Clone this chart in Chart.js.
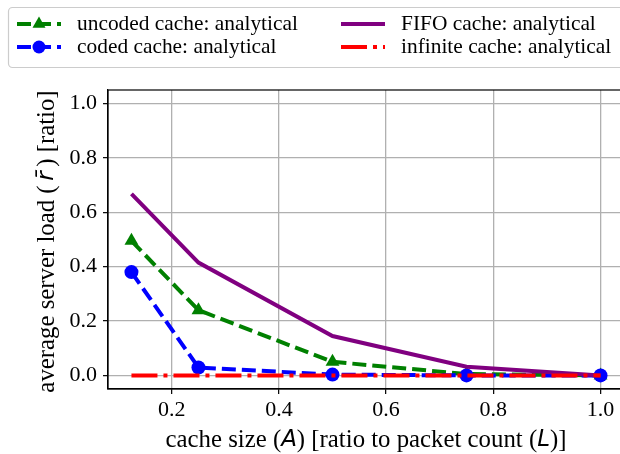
<!DOCTYPE html>
<html>
<head>
<meta charset="utf-8">
<script src="https://cdn.jsdelivr.net/npm/chart.js@4.4.1/dist/chart.umd.min.js"></script>
<style>
    html, body { margin: 0; padding: 0; background: #fff; overflow: hidden; }
    #wrap { position: relative; width: 640px; height: 454px; }
</style>
</head>
<body>
<div id="wrap"><canvas id="loadChart"></canvas></div>
<script>
// Cache size (ratio to packet count) and average server load per model
const cacheSize = [0.125, 0.25, 0.5, 0.75, 1.0];
const uncodedLoad = [0.495, 0.24, 0.05, 0.005, 0.0];
const codedLoad = [0.38, 0.029, 0.003, 0.0, 0.0];
const fifoLoad = [0.668, 0.415, 0.145, 0.032, 0.0];
const infiniteLoad = [0.0, 0.0, 0.0, 0.0, 0.0];

const xTicks = [0.2, 0.4, 0.6, 0.8, 1.0];
const yTicks = [0.0, 0.2, 0.4, 0.6, 0.8, 1.0];

const SERIF = '"Liberation Serif", "Times New Roman", serif';
const MATH = '"DejaVu Sans", sans-serif';

function toPoints(values) {
    return cacheSize.map((x, i) => ({ x: x, y: values[i] }));
}

/**
 * Draw a run of text pieces with different fonts, centred on (0, 0)
 */
function drawMixedText(ctx, pieces) {
    let total = 0;
    pieces.forEach(p => {
        ctx.font = p.font;
        p.w = ctx.measureText(p.text).width;
        total += p.w;
    });
    let x = -total / 2;
    pieces.forEach(p => {
        ctx.font = p.font;
        ctx.fillText(p.text, x, 0);
        x += p.w;
    });
}

// Frame, axis titles and two-column legend
const decorPlugin = {
    id: 'decor',
    afterDraw(chart) {
        const ctx = chart.ctx;
        const area = chart.chartArea;

        ctx.save();
        ctx.strokeStyle = '#000';
        ctx.lineWidth = 1.2;
        ctx.strokeRect(area.left, area.top, area.right - area.left, area.bottom - area.top);

        ctx.fillStyle = '#000';
        ctx.textBaseline = 'middle';
        ctx.textAlign = 'left';

        // x axis title
        ctx.save();
        ctx.translate((area.left + area.right) / 2, 440);
        drawMixedText(ctx, [
            { text: 'cache size (', font: '24.8px ' + SERIF },
            { text: 'A', font: 'italic 23px ' + MATH },
            { text: ') [ratio to packet count (', font: '24.8px ' + SERIF },
            { text: 'L', font: 'italic 23px ' + MATH },
            { text: ')]', font: '24.8px ' + SERIF }
        ]);
        ctx.restore();

        // y axis title
        ctx.save();
        ctx.translate(47, (area.top + area.bottom) / 2 + 2);
        ctx.rotate(-Math.PI / 2);
        drawMixedText(ctx, [
            { text: 'average server load (', font: '24.8px ' + SERIF },
            { text: '\u2009r\u0304\u2009', font: 'italic 23px ' + MATH },
            { text: ') [ratio]', font: '24.8px ' + SERIF }
        ]);
        ctx.restore();

        // legend box
        ctx.beginPath();
        ctx.roundRect(8.5, 7.5, 640, 60, 4);
        ctx.fillStyle = 'rgba(255,255,255,0.8)';
        ctx.fill();
        ctx.strokeStyle = '#cccccc';
        ctx.lineWidth = 1.2;
        ctx.stroke();

        const slots = [
            { ds: 0, x: 17, y: 24 },
            { ds: 1, x: 17, y: 47 },
            { ds: 2, x: 341, y: 24 },
            { ds: 3, x: 341, y: 47 }
        ];
        slots.forEach(s => {
            const ds = chart.data.datasets[s.ds];
            ctx.save();
            ctx.strokeStyle = ds.borderColor;
            ctx.lineWidth = ds.borderWidth;
            ctx.setLineDash(ds.borderDash || []);
            ctx.beginPath();
            ctx.moveTo(s.x, s.y);
            ctx.lineTo(s.x + 44, s.y);
            ctx.stroke();
            ctx.setLineDash([]);
            if (ds.pointRadius > 0) {
                ctx.fillStyle = ds.pointBackgroundColor;
                ctx.strokeStyle = ds.pointBackgroundColor;
                Chart.helpers.drawPoint(ctx, {
                    pointStyle: ds.pointStyle,
                    radius: ds.pointRadius - 0.5,
                    rotation: 0,
                    borderWidth: 0
                }, s.x + 22, s.y);
            }
            ctx.restore();
            ctx.fillStyle = '#000';
            ctx.textBaseline = 'middle';
            ctx.font = '21.4px ' + SERIF;
            ctx.fillText(ds.label, s.x + 60, s.y);
        });
        ctx.restore();
    }
};

const ctx = document.getElementById('loadChart').getContext('2d');
new Chart(ctx, {
    type: 'line',
    data: {
        datasets: [
            {
                label: 'uncoded cache: analytical',
                data: toPoints(uncodedLoad),
                borderColor: '#008000',
                borderWidth: 4,
                borderDash: [14, 6],
                pointStyle: 'triangle',
                pointRadius: 8,
                pointBorderWidth: 0,
                pointBackgroundColor: '#008000',
                pointBorderColor: '#008000',
                order: 3
            },
            {
                label: 'coded cache: analytical',
                data: toPoints(codedLoad),
                borderColor: '#0000ff',
                borderWidth: 4,
                borderDash: [14, 6],
                pointStyle: 'circle',
                pointRadius: 7,
                pointBorderWidth: 0,
                pointBackgroundColor: '#0000ff',
                pointBorderColor: '#0000ff',
                order: 2
            },
            {
                label: 'FIFO cache: analytical',
                data: toPoints(fifoLoad),
                borderColor: '#800080',
                borderWidth: 4,
                pointRadius: 0,
                order: 1
            },
            {
                label: 'infinite cache: analytical',
                data: toPoints(infiniteLoad),
                borderColor: '#ff0000',
                borderWidth: 4,
                borderDash: [26, 6, 4, 6],
                pointRadius: 0,
                order: 0
            }
        ]
    },
    options: {
        responsive: true,
        maintainAspectRatio: false,
        animation: false,
        layout: {
            padding: { left: 68, right: 16, top: 90, bottom: 35 }
        },
        elements: {
            line: { tension: 0, fill: false, borderCapStyle: 'butt' }
        },
        scales: {
            x: {
                type: 'linear',
                min: 0.08125,
                max: 1.04375,
                afterBuildTicks: scale => { scale.ticks = xTicks.map(v => ({ value: v })); },
                afterFit: scale => { scale.height = 30; },
                grid: { color: '#b0b0b0', lineWidth: 1.3, tickColor: '#000', tickLength: 5, tickWidth: 1.2 },
                border: { color: '#000', width: 1.2 },
                ticks: {
                    color: '#000',
                    padding: 3,
                    maxRotation: 0,
                    font: { family: SERIF, size: 22 },
                    callback: v => v.toFixed(1)
                }
            },
            y: {
                min: -0.05,
                max: 1.05,
                afterBuildTicks: scale => { scale.ticks = yTicks.map(v => ({ value: v })); },
                afterFit: scale => { scale.width = 40; },
                grid: { color: '#b0b0b0', lineWidth: 1.3, tickColor: '#000', tickLength: 5, tickWidth: 1.2 },
                border: { color: '#000', width: 1.2 },
                ticks: {
                    color: '#000',
                    padding: 6,
                    font: { family: SERIF, size: 22 },
                    callback: v => v.toFixed(1)
                }
            }
        },
        plugins: {
            legend: { display: false },
            tooltip: { enabled: false }
        }
    },
    plugins: [decorPlugin]
});
</script>
</body>
</html>
